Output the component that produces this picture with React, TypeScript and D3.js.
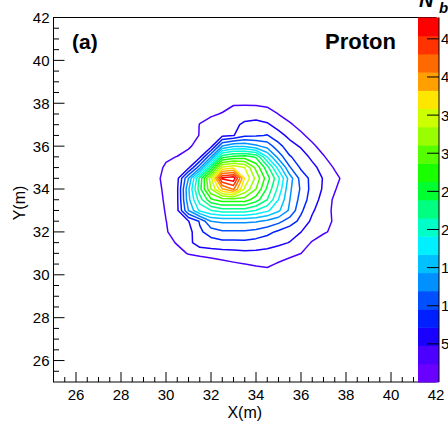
import React, { useMemo } from "react";
import * as d3 from "d3";

// ---- data: N_b on a 0.5 m grid (x = 29.0 ... 38.5, y = 38.5 ... 29.5) ----
const xCenters = [29.0, 29.5, 30.0, 30.5, 31.0, 31.5, 32.0, 32.5, 33.0, 33.5, 34.0, 34.5, 35.0, 35.5, 36.0, 36.5, 37.0, 37.5, 38.0, 38.5];
const yCenters = [38.5, 38.0, 37.5, 37.0, 36.5, 36.0, 35.5, 35.0, 34.5, 34.0, 33.5, 33.0, 32.5, 32.0, 31.5, 31.0, 30.5, 30.0, 29.5];

const nbY385 = [0, 0, 0, 0, 0, 0, 0, 0, 0, 0, 0, 0, 0, 0, 0, 0, 0, 0, 0, 0];
const nbY380 = [0, 0, 0, 0, 0, 0.9, 1.4, 1.7, 2.23, 2.07, 2.03, 1.8, 0.85, 0, 0, 0, 0, 0, 0, 0];
const nbY375 = [0, 0, 0, 0, 1.15, 1.8, 2.15, 2.5, 3.0, 3.7, 3.85, 3.4, 2.35, 1.2, 0, 0, 0, 0, 0, 0];
const nbY370 = [0, 0, 0, 0.3, 1.3, 2.45, 3.05, 3.35, 4.2, 5.25, 5.5, 5.1, 3.85, 2.75, 1.5, 0.1, 0, 0, 0, 0];
const nbY365 = [0, 0, 0.2, 0.6, 1.2, 2.5, 3.5, 4.2, 4.65, 6.6, 6.9, 7.3, 5.6, 4.15, 2.9, 1.5, 0.2, 0, 0, 0];
const nbY360 = [0, 0.3, 0.84, 1.4, 2.08, 3.2, 4.0, 12, 14, 14, 12.5, 11, 8, 5.7, 4.5, 2.9, 1.38, 0.3, 0, 0];
const nbY355 = [0.1, 1.43, 2.07, 2.45, 3.2, 4.2, 11.8, 23, 24.6, 25, 23.5, 16.7, 11, 7.4, 6, 4.2, 2.6, 1.08, 0.2, 0];
const nbY350 = [0.24, 1.6, 2.7, 3.6, 4.3, 11.2, 22.5, 34, 35.4, 33.5, 28, 22.5, 15.8, 9.8, 6.8, 5.5, 3.8, 2.15, 0.68, 0];
const nbY345 = [0.6, 1.82, 3.0, 4.0, 12, 22, 32.7, 46, 47, 35.6, 30.4, 25, 19.6, 13.1, 8.6, 6.4, 4.6, 3.1, 1.55, 0.1];
const nbY340 = [0.1, 1.46, 2.95, 4.4, 14, 23, 31, 38, 41, 33, 28.7, 23.4, 18.4, 12.4, 9.2, 6.25, 4.5, 2.6, 0.8, 0];
const nbY335 = [0, 1.2, 2.8, 4.35, 13.6, 20.3, 25.8, 27.5, 27.5, 27.5, 25, 21.5, 16.7, 12, 8.6, 5.9, 3.9, 1.93, 0, 0];
const nbY330 = [0, 0.9, 2.6, 4.25, 12, 17.2, 19, 20.3, 20.3, 20.3, 19, 17.2, 14.8, 11.5, 7.6, 5.1, 3.4, 1.9, 0.1, 0];
const nbY325 = [0, 0.7, 2.35, 3.55, 4.7, 7.4, 12, 12.4, 12.4, 12.4, 12.2, 11.5, 10.3, 8.4, 6.5, 4.25, 3.2, 2.1, 0.9, 0];
const nbY320 = [0, 0.8, 2.2, 3.35, 3.8, 6.8, 8.1, 9.2, 9.2, 9.2, 8.8, 7.9, 6.7, 5.7, 4.8, 3.8, 2.75, 1.75, 0.74, 0];
const nbY315 = [0, 0.4, 1.4, 2.65, 4.1, 6.0, 6.3, 6.5, 6.5, 6.6, 6.2, 5.7, 5.3, 4.7, 3.8, 2.15, 0.9, 0, 0, 0];
const nbY310 = [0, 0, 0.1, 1.4, 2.6, 3.2, 3.55, 3.8, 4.0, 4.2, 4.2, 4.1, 3.55, 3.05, 2.42, 1.27, 0.2, 0, 0, 0];
const nbY305 = [0, 0, 0, 0, 0.2, 0.3, 0.9, 1.52, 2.03, 2.38, 2.67, 2.8, 2.16, 1.45, 0.5, 0, 0, 0, 0, 0];
const nbY300 = [0, 0, 0, 0, 0, 0, 0, 0, 0.2, 0.6, 1.1, 1.5, 0.5, 0, 0, 0, 0, 0, 0, 0];
const nbY295 = [0, 0, 0, 0, 0, 0, 0, 0, 0, 0, 0, 0, 0, 0, 0, 0, 0, 0, 0, 0];

const zMax = 47.8;
const nLevels = 20;

const xTickLabels = [26, 28, 30, 32, 34, 36, 38, 40, 42];
const yTickLabels = [26, 28, 30, 32, 34, 36, 38, 40, 42];
const zTickLabels = [5, 10, 15, 20, 25, 30, 35, 40, 45];

const paletteColors = [
  "#6a00ff", "#4c00ff", "#1a00ff", "#0020ff", "#0050ff",
  "#0090ff", "#00c0ff", "#00f0ff", "#00ffc8", "#00ff80",
  "#00ff30", "#1aff00", "#55ff00", "#99ff00", "#ccff00",
  "#ffe600", "#ffa000", "#ff6a00", "#ff3300", "#ff0000",
];

const FONT = "'Liberation Sans', Arial, Helvetica, sans-serif";

export default function App() {
  const W = 448, H = 421;
  const left = 53.5, right = 436, top = 17.5, bottom = 382;
  const palX0 = 418, palX1 = 439;

  const xScale = d3.scaleLinear().domain([25, 42]).range([left, right]);
  const yScale = d3.scaleLinear().domain([25, 42]).range([bottom, top]);
  const zScale = d3.scaleLinear().domain([0, zMax]).range([bottom, top]);

  const grid = [nbY385, nbY380, nbY375, nbY370, nbY365, nbY360, nbY355, nbY350, nbY345, nbY340,
    nbY335, nbY330, nbY325, nbY320, nbY315, nbY310, nbY305, nbY300, nbY295];
  const step = zMax / nLevels;
  const levels = d3.range(1, nLevels).map((k) => k * step);

  const contours = useMemo(() => {
    const n = xCenters.length, m = yCenters.length;
    return d3.contours().size([n, m]).thresholds(levels)(grid.flat());
  }, []);

  const dx = xCenters[1] - xCenters[0];
  const dy = yCenters[0] - yCenters[1];
  const proj = d3.geoTransform({
    point: function (x: number, y: number) {
      (this as any).stream.point(
        xScale(xCenters[0] - dx / 2 + x * dx),
        yScale(yCenters[0] + dy / 2 - y * dy)
      );
    },
  });
  const path = d3.geoPath(proj as any);

  const xMinor = d3.range(25.5, 42.01, 0.5);
  const yMinor = d3.range(25.5, 42.01, 0.5);

  return (
    <svg width={W} height={H} style={{ position: "absolute", left: 0, top: 0, background: "#fff" }}>
      <rect x={0} y={0} width={W} height={H} fill="#fff" />
      {/* contours */}
      <g fill="none" strokeWidth={1.5} strokeLinejoin="round">
        {contours.map((c, i) => (
          <path key={i} d={path(c as any) || ""} stroke={paletteColors[i + 1]} />
        ))}
      </g>
      {/* frame */}
      <rect x={left} y={top} width={right - left} height={bottom - top} fill="none" stroke="#000" strokeWidth={1} />
      {/* ticks */}
      <g stroke="#000" strokeWidth={1}>
        {xMinor.map((v, i) => {
          const major = Math.abs(v % 2) < 1e-6;
          const x = xScale(v);
          return <line key={i} x1={x} x2={x} y1={bottom} y2={bottom - (major ? 10 : 5)} />;
        })}
        {yMinor.map((v, i) => {
          const major = Math.abs(v % 2) < 1e-6;
          const y = yScale(v);
          return <line key={i} x1={left} x2={left + (major ? 11 : 5.5)} y1={y} y2={y} />;
        })}
      </g>
      <g fontFamily={FONT} fontSize={15} fill="#000">
        {xTickLabels.map((v) => (
          <text key={v} x={xScale(v)} y={400} textAnchor="middle">{v}</text>
        ))}
        {yTickLabels.map((v) => (
          <text key={v} x={49.5} y={yScale(v)} dy="0.36em" textAnchor="end">{v}</text>
        ))}
      </g>
      <text x={(left + right) / 2} y={418} textAnchor="middle" fontFamily={FONT} fontSize={16}>X(m)</text>
      <text transform={`translate(24.5,203) rotate(-90)`} textAnchor="middle" fontFamily={FONT} fontSize={16}>Y(m)</text>
      {/* palette */}
      <g>
        {paletteColors.map((c, k) => (
          <rect key={k} x={palX0} width={palX1 - palX0}
            y={zScale((k + 1) * step)} height={zScale(k * step) - zScale((k + 1) * step) + 0.5} fill={c} />
        ))}
        <line x1={palX1} x2={palX1} y1={top} y2={bottom} stroke="#000" strokeWidth={1} />
        {zTickLabels.map((v) => (
          <line key={v} x1={palX1 - 12} x2={palX1} y1={zScale(v)} y2={zScale(v)} stroke="#000" strokeWidth={1} />
        ))}
        {zTickLabels.map((v) => (
          <text key={v} x={441} y={zScale(v)} dy="0.36em" fontFamily={FONT} fontSize={15}>{v}</text>
        ))}
      </g>
      {/* labels */}
      <text x={72} y={49} fontFamily={FONT} fontSize={21} fontWeight="bold">(a)</text>
      <text x={325} y={49} fontFamily={FONT} fontSize={22} fontWeight="bold">Proton</text>
      <text x={419} y={7} fontFamily={FONT} fontSize={20} fontWeight="bold" fontStyle="italic">N</text>
      <text x={439} y={13} fontFamily={FONT} fontSize={15} fontWeight="bold" fontStyle="italic">b</text>
    </svg>
  );
}
